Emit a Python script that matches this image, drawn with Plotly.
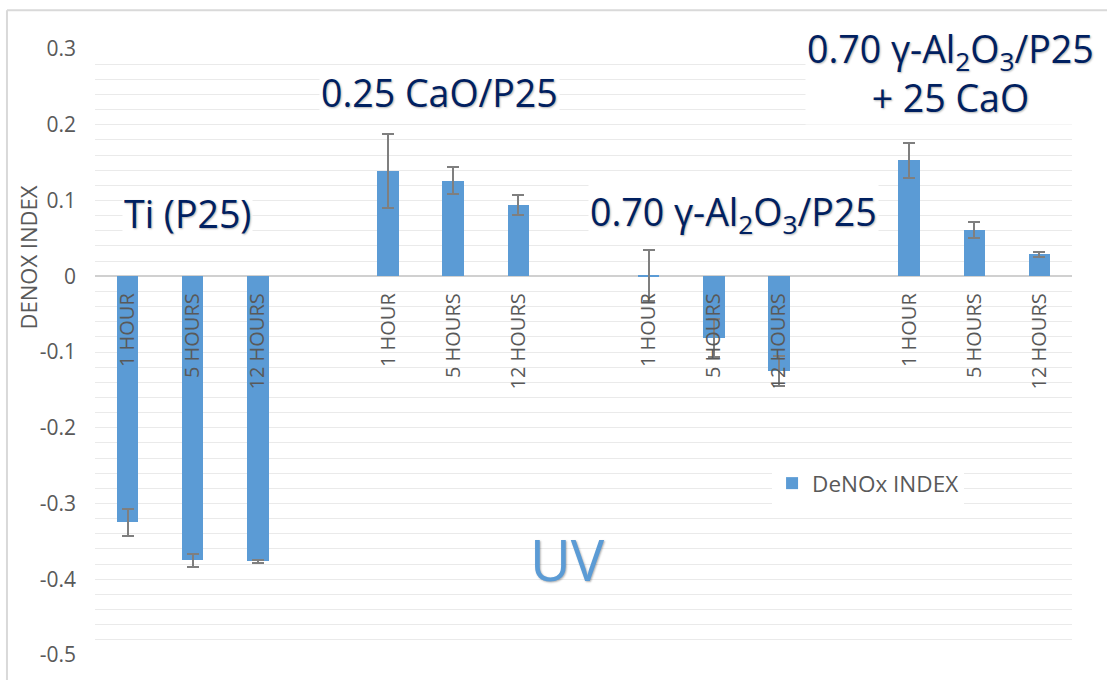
import plotly.graph_objects as go

# Samples and irradiation times
groups = ["Ti (P25)", "0.25 CaO/P25", "0.70 γ-Al2O3/P25", "0.70 γ-Al2O3/P25 + 25 CaO"]
hours = ["1 HOUR", "5 HOURS", "12 HOURS"]

# DeNOx index under UV (one list per sample, ordered by irradiation time)
ti_p25 = [-0.325, -0.375, -0.376]
cao_p25 = [0.139, 0.126, 0.094]
al2o3_p25 = [0.001, -0.082, -0.125]
al2o3_cao_p25 = [0.153, 0.061, 0.029]

# Standard deviations
ti_p25_err = [0.018, 0.009, 0.002]
cao_p25_err = [0.049, 0.018, 0.013]
al2o3_p25_err = [0.034, 0.025, 0.020]
al2o3_cao_p25_err = [0.023, 0.010, 0.003]

y_ticks = [0.3, 0.2, 0.1, 0.0, -0.1, -0.2, -0.3, -0.4, -0.5]
y_tick_labels = ["0.3", "0.2", "0.1", "0", "-0.1", "-0.2", "-0.3", "-0.4", "-0.5"]

series = [ti_p25, cao_p25, al2o3_p25, al2o3_cao_p25]
errors = [ti_p25_err, cao_p25_err, al2o3_p25_err, al2o3_cao_p25_err]

# one empty slot between consecutive samples
slot = len(hours) + 1
x_pos, y_val, y_err, x_text = [], [], [], []
for g, (vals, errs) in enumerate(zip(series, errors)):
    for h, (v, e) in enumerate(zip(vals, errs)):
        x_pos.append(g * slot + h)
        y_val.append(v)
        y_err.append(e)
        x_text.append(hours[h])

# minor gridlines every 0.02 across the value range
y_lo, y_hi = y_ticks[-1], y_ticks[0]
minor_vals = [round(y_lo + 0.02 * i, 2) for i in range(int(round((y_hi - y_lo) / 0.02)) + 1)]

BLUE = "#5B9BD5"
NAVY = "#002060"
GREY = "#595959"
GRID = "#EAEAEA"
FONT = "Open Sans"
SHADOW = "1px 1px 2px rgba(0,0,0,0.30)"

fig = go.Figure()
fig.add_trace(go.Bar(
    x=x_pos, y=y_val, width=0.33, name="DeNOx INDEX",
    marker=dict(color=BLUE, line=dict(width=0)),
    error_y=dict(type="data", array=y_err, color="#7F7F7F", thickness=2, width=6),
))

n_slots = len(groups) * slot - 1
zero_frac = (0 - y_lo) / (y_hi - y_lo)

fig.update_layout(
    width=1107, height=680,
    margin=dict(l=95, r=35, t=49, b=20),
    paper_bgcolor="white", plot_bgcolor="white",
    font=dict(family=FONT, color=GREY),
    bargap=0,
    showlegend=True,
    legend=dict(x=0.693, y=0.283, xanchor="left", yanchor="middle",
                bgcolor="white", font=dict(size=22.5, color=GREY, family=FONT)),
    xaxis=dict(range=[-0.5, n_slots - 0.5], tickvals=x_pos, ticktext=x_text,
               tickangle=-90, anchor="free", position=zero_frac,
               showgrid=False, zeroline=False, showline=False, ticks="",
               ticklabelstandoff=12,
               tickfont=dict(size=20, color=GREY, family=FONT)),
    yaxis=dict(range=[y_lo, y_hi], tickmode="array", tickvals=y_ticks, ticktext=y_tick_labels,
               showgrid=True, gridcolor=GRID, gridwidth=1.3,
               minor=dict(tickmode="array", tickvals=minor_vals, showgrid=True,
                          gridcolor=GRID, gridwidth=1.3, ticks=""),
               zeroline=True, zerolinecolor="#D0D0D0", zerolinewidth=1.6,
               showline=False, ticks="", ticklabelstandoff=18,
               tickfont=dict(size=21, color=GREY, family=FONT)),
)

# chart frame
fig.add_shape(type="line", xref="paper", yref="paper", x0=-0.0901, x1=-0.0901, y0=1.0638, y1=-0.06,
              line=dict(color="#D9D9D9", width=2))
fig.add_shape(type="line", xref="paper", yref="paper", x0=-0.0901, x1=1.05, y0=1.0638, y1=1.0638,
              line=dict(color="#D9D9D9", width=2))

# axis title
fig.add_annotation(text="DENOX INDEX", xref="paper", yref="paper", x=-0.0676, y=0.656,
                   textangle=-90, showarrow=False, xanchor="center", yanchor="middle",
                   font=dict(size=22, color=GREY, family=FONT))

# sample labels
labels = [
    ("Ti (P25)", 0.92, 0.083),
    ("0.25 CaO/P25", 4.79, 0.243),
    ("0.70 γ-Al<sub>2</sub>O<sub>3</sub>/P25", 9.31, 0.082),
    ("0.70 γ-Al<sub>2</sub>O<sub>3</sub>/P25<br>+ 25 CaO", 12.63, 0.268),
]
for text, xx, yy in labels:
    fig.add_annotation(text=text, x=xx, y=yy, xref="x", yref="y", showarrow=False,
                       xanchor="center", yanchor="middle", bgcolor="white", align="center",
                       font=dict(size=37.5, color=NAVY, family=FONT, shadow=SHADOW))

fig.add_annotation(text="UV", x=6.75, y=-0.373, xref="x", yref="y", showarrow=False,
                   xanchor="center", yanchor="middle",
                   font=dict(size=56, color=BLUE, family=FONT, shadow=SHADOW))

fig.write_html("out.html")
